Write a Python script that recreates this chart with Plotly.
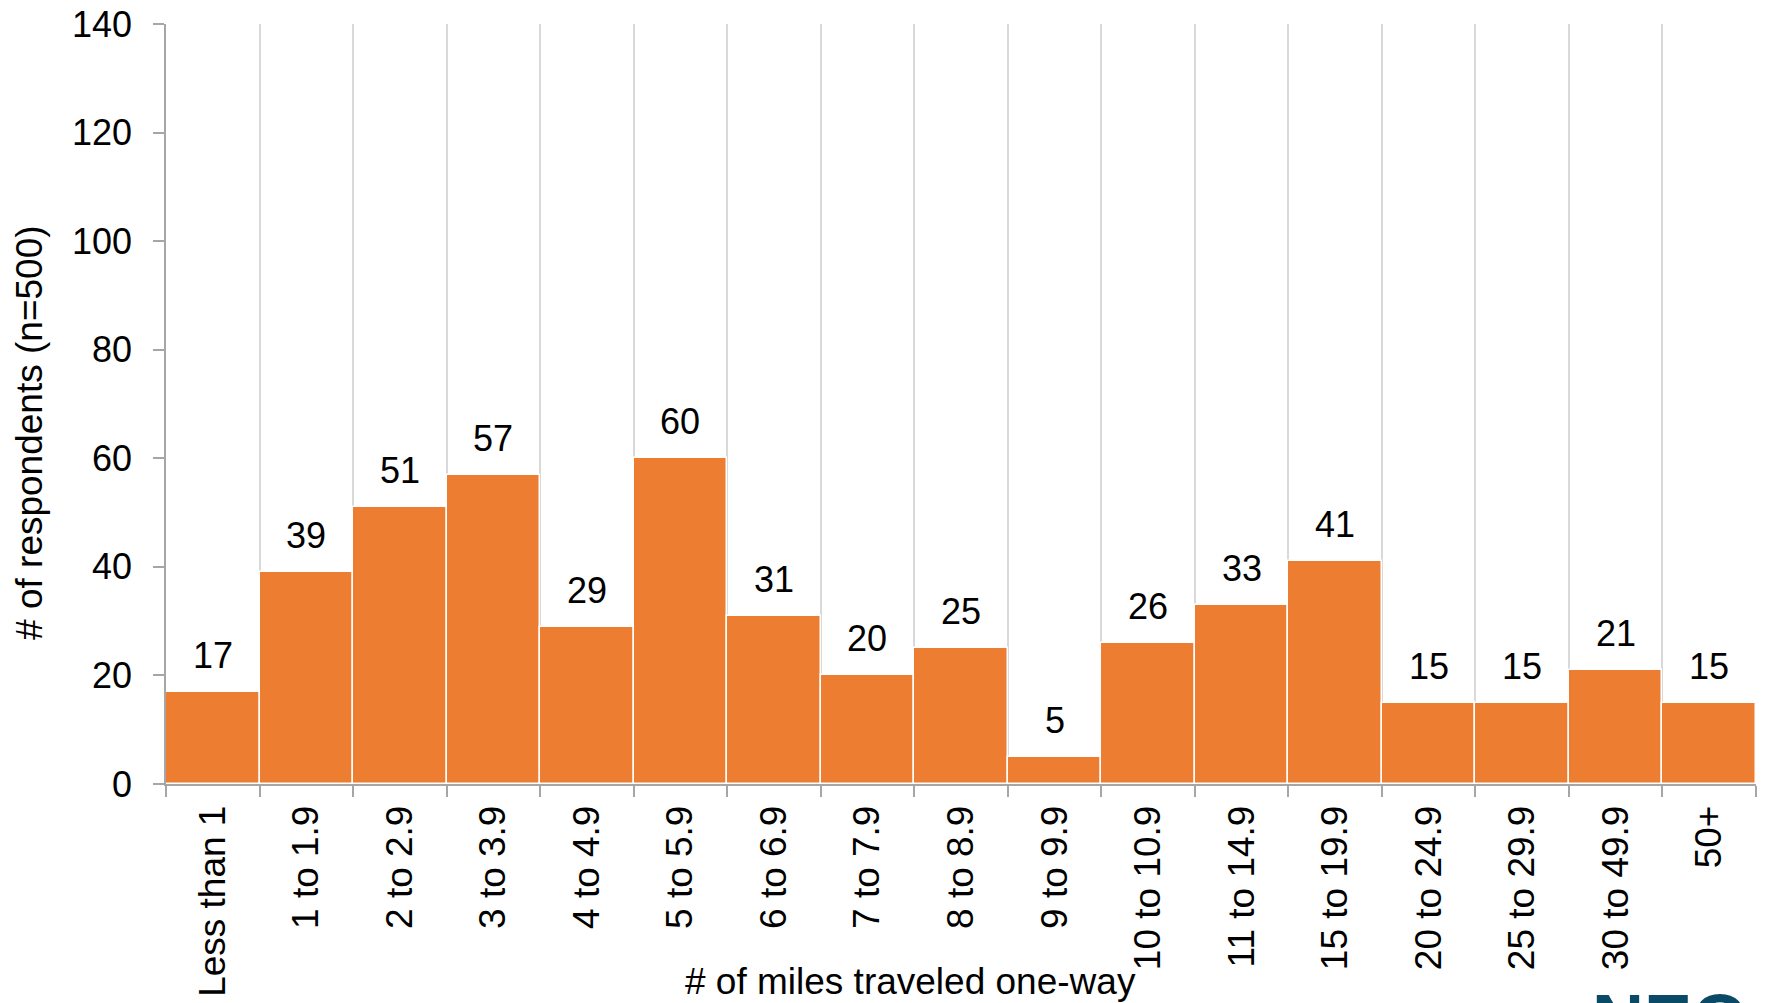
import plotly.graph_objects as go

categories = ["Less than 1", "1 to 1.9", "2 to 2.9", "3 to 3.9", "4 to 4.9", "5 to 5.9",
              "6 to 6.9", "7 to 7.9", "8 to 8.9", "9 to 9.9", "10 to 10.9", "11 to 14.9",
              "15 to 19.9", "20 to 24.9", "25 to 29.9", "30 to 49.9", "50+"]
respondents = [17, 39, 51, 57, 29, 60, 31, 20, 25, 5, 26, 33, 41, 15, 15, 21, 15]
y_ticks = [0, 20, 40, 60, 80, 100, 120, 140]

FONT = "Liberation Sans, Arial, sans-serif"
ORANGE = "#ED7D31"

fig = go.Figure()
fig.add_trace(go.Bar(
    x=categories, y=respondents,
    marker=dict(color=ORANGE, line=dict(color="white", width=1.5)),
    hoverinfo="x+y",
))

annotations = []
for c, v in zip(categories, respondents):
    annotations.append(dict(x=c, y=v, xref="x", yref="y", text=str(v), showarrow=False,
                            yanchor="bottom", yshift=14,
                            font=dict(family=FONT, size=36, color="black")))

annotations.append(dict(x=0.468, y=-0.2593, xref="paper", yref="paper",
                        text="# of miles traveled one-way", showarrow=False,
                        xanchor="center", yanchor="middle",
                        font=dict(family=FONT, size=37, color="black")))
annotations.append(dict(x=-0.0855, y=0.462, xref="paper", yref="paper",
                        text="# of respondents (n=500)", showarrow=False, textangle=-90,
                        xanchor="center", yanchor="middle",
                        font=dict(family=FONT, size=37, color="black")))
annotations.append(dict(x=(1590 - 166) / 1590, y=(776 - 968) / 752, xref="paper", yref="paper",
                        text="<b>NEO</b>", showarrow=False, xanchor="left", yanchor="top",
                        font=dict(family=FONT, size=72, color="#0B4A66")))

fig.update_layout(
    width=1757, height=995,
    margin=dict(l=158, r=9, t=16, b=219, autoexpand=False),
    paper_bgcolor="white", plot_bgcolor="white",
    bargap=0,
    showlegend=False,
    annotations=annotations,
    font=dict(family=FONT, size=36, color="black"),
    xaxis=dict(
        type="category", tickson="boundaries", showgrid=True, gridcolor="#d9d9d9", gridwidth=1.5,
        showline=True, linecolor="#a6a6a6", linewidth=1.5,
        ticks="outside", ticklen=11, tickcolor="#a6a6a6", tickwidth=1.5,
        tickangle=-90, ticklabelstandoff=5, ticklabeloverflow="allow",
        tickfont=dict(family=FONT, size=37, color="black"),
        automargin=False,
    ),
    yaxis=dict(
        range=[0, 140], tickvals=y_ticks, showgrid=False, zeroline=False,
        showline=True, linecolor="#a6a6a6", linewidth=1.5,
        ticks="outside", ticklen=11, tickcolor="#a6a6a6", tickwidth=1.5,
        ticklabelstandoff=14, ticklabeloverflow="allow",
        tickfont=dict(family=FONT, size=36, color="black"),
        automargin=False,
    ),
)

fig.write_html("out.html")
